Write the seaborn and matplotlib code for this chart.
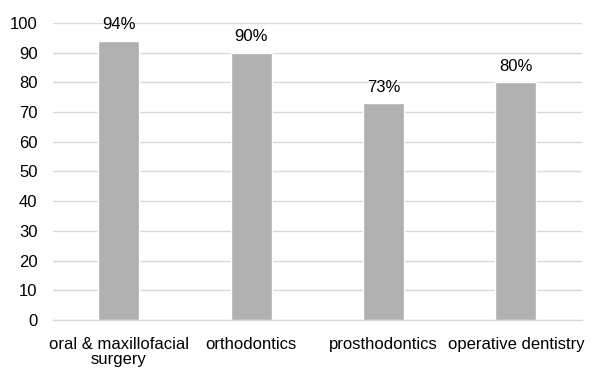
import matplotlib
matplotlib.use("Agg")
import matplotlib.pyplot as plt
import seaborn as sns
import pandas as pd

categories = ["oral & maxillofacial\nsurgery", "orthodontics", "prosthodontics", "operative dentistry"]
values = [94, 90, 73, 80]
yticks = [0, 10, 20, 30, 40, 50, 60, 70, 80, 90, 100]

sns.set_style("white")
plt.rcParams["font.family"] = ["Liberation Sans", "DejaVu Sans"]

df = pd.DataFrame({"specialty": categories, "percent": values})

fig = plt.figure(figsize=(6.0, 3.68), dpi=100)
ax = fig.add_axes([0.088, 0.13, 0.882, 0.808])

sns.barplot(data=df, x="specialty", y="percent", color="#B0B0B0",
            width=0.31, saturation=1, ax=ax, zorder=3)

ax.set_ylim(0, 100)
ax.set_yticks(yticks)
ax.set_xlim(-0.5, len(categories) - 0.5)
ax.yaxis.grid(True, color="#D9D9D9", linewidth=1.0, zorder=0)
ax.set_axisbelow(True)
for s in ["top", "right", "left"]:
    ax.spines[s].set_visible(False)
ax.spines["bottom"].set_color("#D9D9D9")
ax.spines["bottom"].set_linewidth(1.0)

ax.set_xlabel("")
ax.set_ylabel("")
ax.tick_params(axis="both", length=0, labelsize=12, colors="#000000")
ax.tick_params(axis="x", pad=12)
ax.tick_params(axis="y", pad=11)
for lbl in ax.get_xticklabels():
    lbl.set_linespacing(1.0)

for container in ax.containers:
    ax.bar_label(container, labels=[f"{v}%" for v in values],
                 padding=6, fontsize=12, color="#000000")

fig.savefig("out.png", dpi=100)
